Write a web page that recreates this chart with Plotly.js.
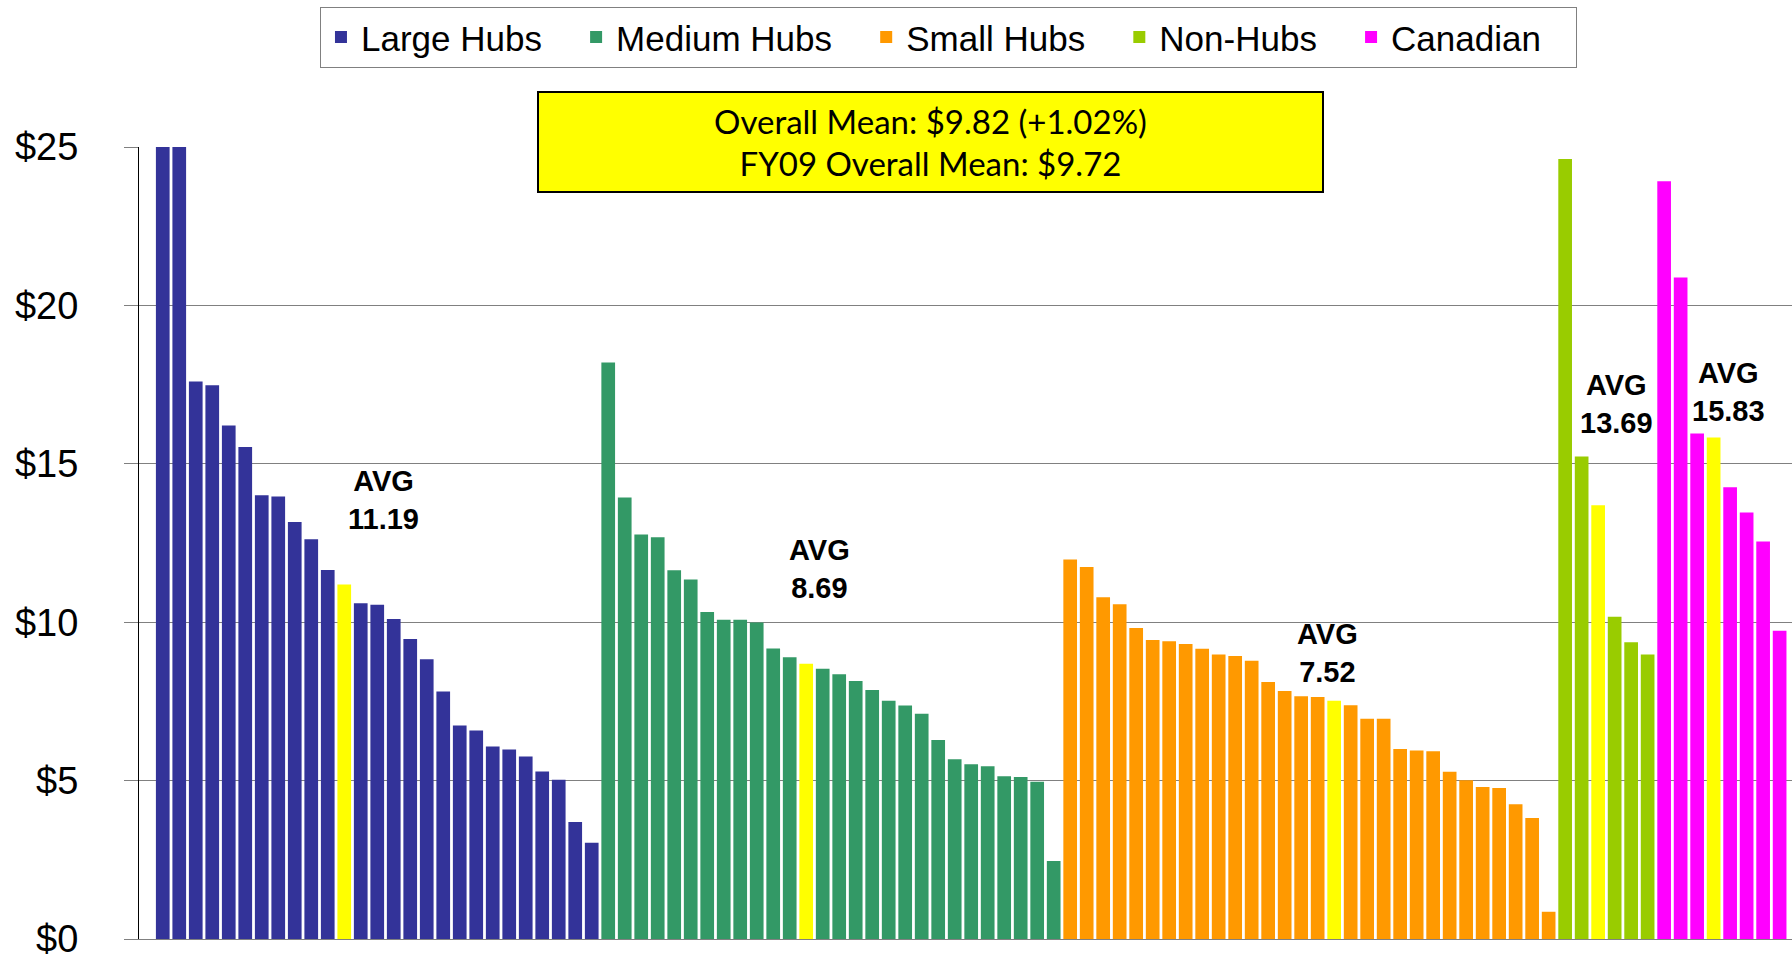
<!DOCTYPE html>
<html>
<head>
<meta charset="utf-8">
<script src="https://cdn.plot.ly/plotly-3.0.1.min.js"></script>
<style>
  html, body { margin: 0; padding: 0; background: #fff; }
  #chart { width: 1792px; height: 960px; }
</style>
</head>
<body>
<div id="chart"></div>
<script>
// cost per enplanement by airport, sorted high to low within each group
const groupNames = ['Large Hubs', 'Medium Hubs', 'Small Hubs', 'Non-Hubs', 'Canadian'];

const largeHubs = [28.0, 25.2, 17.60, 17.48, 16.21, 15.53, 14.01, 13.97, 13.16, 12.62, 11.65,
    10.60, 10.55, 10.10, 9.47, 8.83, 7.81, 6.74, 6.58, 6.08, 5.98, 5.76, 5.29, 5.03, 3.69, 3.04];
const mediumHubs = [18.20, 13.94, 12.77, 12.68, 11.64, 11.35, 10.32, 10.08, 10.08, 9.99, 9.17, 8.89,
    8.53, 8.36, 8.14, 7.86, 7.52, 7.37, 7.11, 6.28, 5.67, 5.52, 5.45, 5.14, 5.11, 4.96, 2.46];
const smallHubs = [11.98, 11.74, 10.79, 10.57, 9.82, 9.44, 9.40, 9.31, 9.16, 8.98, 8.93, 8.78, 8.11,
    7.83, 7.66, 7.64, 7.38, 6.95, 6.95, 6.00, 5.95, 5.93, 5.28, 5.01, 4.80, 4.77, 4.25, 3.82, 0.86];
const nonHubs = [24.62, 15.23, 10.17, 9.37, 8.98];
const canadian = [23.92, 20.88, 15.96, 14.26, 13.46, 12.55, 9.73];

const groupAverages = [11.19, 8.69, 7.52, 13.69, 15.83];

const overallMean = '$9.82 (+1.02%)';
const fy09Mean = '$9.72';

const groupValues = [largeHubs, mediumHubs, smallHubs, nonHubs, canadian];
const groupColors = ['#333399', '#339966', '#FF9900', '#99CC00', '#FF00FF'];
const avgColor = '#FFFF00';
const barWidth = 0.83;
const legendPad = '\u00a0\u00a0\u00a0'; // extra room after each legend entry

// where the "AVG" labels sit, in axis units (x = bar slot, y = dollars)
const avgLabelPos = [
    { x: 13.4, y: 13.87 },
    { x: 39.8, y: 11.69 },
    { x: 70.6, y: 9.04 },
    { x: 88.1, y: 16.88 },
    { x: 94.9, y: 17.28 }
];

const traces = [];
const avgX = [];
const avgY = [];
let slot = 0;

groupValues.forEach((vals, g) => {
    const avg = groupAverages[g];
    const xs = [];
    const ys = [];
    let avgPlaced = false;
    vals.forEach(v => {
        if (!avgPlaced && avg > v) {
            avgX.push(slot++);
            avgY.push(avg);
            avgPlaced = true;
        }
        xs.push(slot++);
        ys.push(v);
    });
    if (!avgPlaced) {
        avgX.push(slot++);
        avgY.push(avg);
    }
    traces.push({
        type: 'bar',
        name: groupNames[g] + legendPad,
        x: xs,
        y: ys,
        width: barWidth,
        marker: { color: groupColors[g], line: { width: 0 } },
        hoverinfo: 'y'
    });
});

traces.push({
    type: 'bar',
    name: 'Average',
    x: avgX,
    y: avgY,
    width: barWidth,
    marker: { color: avgColor, line: { width: 0 } },
    showlegend: false,
    hoverinfo: 'y'
});

const annotations = groupAverages.map((a, g) => ({
    x: avgLabelPos[g].x,
    y: avgLabelPos[g].y,
    xref: 'x',
    yref: 'y',
    text: '<b>AVG<br>' + a.toFixed(2) + '</b>',
    showarrow: false,
    font: { family: 'Liberation Sans, Arial, sans-serif', size: 29, color: '#000' }
}));

annotations.push({
    x: 0.4788,
    y: 1.0058,
    xref: 'paper',
    yref: 'paper',
    xanchor: 'center',
    yanchor: 'middle',
    text: 'Overall Mean: ' + overallMean + '<br>FY09 Overall Mean: ' + fy09Mean,
    showarrow: false,
    bgcolor: avgColor,
    bordercolor: '#000',
    borderwidth: 2,
    borderpad: 4,
    width: 775,
    height: 90,
    font: { family: 'Lato, Open Sans, sans-serif', size: 33, color: '#000' }
});

const layout = {
    width: 1792,
    height: 960,
    margin: { l: 139, r: 0, t: 147, b: 21 },
    barmode: 'overlay',
    paper_bgcolor: '#fff',
    plot_bgcolor: '#fff',
    xaxis: {
        range: [-1.44, 98.75],
        showticklabels: false,
        showgrid: false,
        zeroline: false,
        showline: true,
        linecolor: '#808080',
        linewidth: 1,
        ticks: ''
    },
    yaxis: {
        range: [0, 25],
        dtick: 5,
        tickprefix: '$',
        showgrid: true,
        gridcolor: '#808080',
        gridwidth: 1,
        zeroline: false,
        showline: true,
        linecolor: '#000',
        linewidth: 1,
        ticks: 'outside',
        ticklen: 14,
        tickcolor: '#808080',
        ticklabelstandoff: 38,
        ticklabeloverflow: 'allow',
        tickfont: { family: 'Liberation Sans, Arial, sans-serif', size: 38, color: '#000' }
    },
    showlegend: true,
    legend: {
        orientation: 'h',
        x: 0.4897,
        xanchor: 'center',
        y: 1.177,
        yanchor: 'top',
        bgcolor: '#fff',
        bordercolor: '#808080',
        borderwidth: 1,
        font: { family: 'Liberation Sans, Arial, sans-serif', size: 35, color: '#000' }
    },
    annotations: annotations
};

Plotly.newPlot('chart', traces, layout, { displayModeBar: false, staticPlot: true });
</script>
</body>
</html>
